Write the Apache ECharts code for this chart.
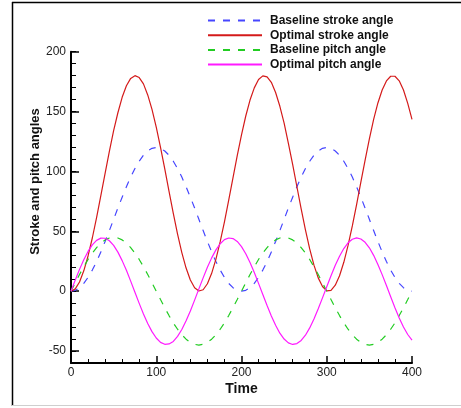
<!DOCTYPE html>
<html>
<head>
<meta charset="utf-8">
<script src="https://cdn.jsdelivr.net/npm/echarts@6/dist/echarts.min.js"></script>
<style>html,body{margin:0;padding:0;background:#fff}#c{width:461px;height:408px}</style>
</head>
<body>
<div id="c"></div>
<script>
const times = [0,5,10,15,20,25,30,35,40,45,50,55,60,65,70,75,80,85,90,95,100,
  105,110,115,120,125,130,135,140,145,150,155,160,165,170,175,180,185,190,195,200,
  205,210,215,220,225,230,235,240,245,250,255,260,265,270,275,280,285,290,295,300,
  305,310,315,320,325,330,335,340,345,350,355,360,365,370,375,380,385,390,395,400];
const baselineStroke = [0,0.7,2.9,6.5,11.5,17.6,24.7,32.8,41.5,50.6,60,69.4,78.5,87.2,95.3,102.4,108.5,113.5,117.1,119.3,120,
  119.3,117.1,113.5,108.5,102.4,95.3,87.2,78.5,69.4,60,50.6,41.5,32.8,24.7,17.6,11.5,6.5,2.9,0.7,0,
  0.7,2.9,6.5,11.5,17.6,24.7,32.8,41.5,50.6,60,69.4,78.5,87.2,95.3,102.4,108.5,113.5,117.1,119.3,120,
  119.3,117.1,113.5,108.5,102.4,95.3,87.2,78.5,69.4,60,50.6,41.5,32.8,24.7,17.6,11.5,6.5,2.9,0.7,0];
const optimalStroke = [0,1.9,7.7,17.0,29.4,44.4,61.5,79.7,98.4,116.8,134.0,149.0,161.9,171.5,177.7,180.0,178.4,173.1,163.9,151.8,137.0,
  120.1,102.2,83.4,65.0,47.7,32.2,19.3,9.3,2.8,0.1,1.2,6.2,14.9,26.7,41.3,57.9,76.0,94.7,113.2,130.6,
  146.3,159.6,169.8,176.8,179.8,179.0,174.4,165.9,154.4,140.3,123.5,105.9,87.2,68.7,51.2,35.3,21.7,11.1,3.9,0.3,
  0.7,5.0,12.9,24.1,38.2,54.5,72.3,91.0,109.5,127.2,143.4,157.2,168.0,175.6,179.5,179.5,175.7,168.0,156.8,143.5];
const baselinePitch = [0,7.0,13.9,20.4,26.5,31.8,36.4,40.1,42.8,44.4,45,44.4,42.8,40.1,36.4,31.8,26.5,20.4,13.9,7.0,0,
  -7.0,-13.9,-20.4,-26.5,-31.8,-36.4,-40.1,-42.8,-44.4,-45,-44.4,-42.8,-40.1,-36.4,-31.8,-26.5,-20.4,-13.9,-7.0,0,
  7.0,13.9,20.4,26.5,31.8,36.4,40.1,42.8,44.4,45,44.4,42.8,40.1,36.4,31.8,26.5,20.4,13.9,7.0,0,
  -7.0,-13.9,-20.4,-26.5,-31.8,-36.4,-40.1,-42.8,-44.4,-45,-44.4,-42.8,-40.1,-36.4,-31.8,-26.5,-20.4,-13.9,-7.0,0];
const optimalPitch = [0,9.3,18.2,26.3,33.2,38.7,42.4,44.3,44.2,42.1,38.2,32.6,25.5,17.4,8.4,-0.9,-10.2,-19.0,-27.0,-33.8,-39.1,
  -42.8,-44.4,-44.1,-42.0,-37.8,-32.0,-24.8,-16.5,-7.5,1.9,11.1,19.9,27.8,34.5,39.6,43.0,44.4,43.9,41.5,37.2,
  31.3,24.0,15.6,6.5,-2.8,-12.0,-20.8,-28.5,-35.1,-40.0,-43.2,-44.5,-43.8,-41.2,-36.8,-30.7,-23.2,-14.7,-5.6,3.7,
  12.9,21.6,29.2,35.6,40.4,43.4,44.5,43.6,40.8,36.2,29.9,22.3,13.8,4.7,-4.7,-13.8,-22.4,-29.9,-36.2,-40.8];
const seriesNames = ['Baseline stroke angle','Optimal stroke angle','Baseline pitch angle','Optimal pitch angle'];
const yMajorTicks = [-50,0,50,100,150,200];
const xTitle = 'Time';
const yTitle = 'Stroke and pitch angles';

const zip = vals => times.map((t, i) => [t, vals[i]]);
const FONT = '"Liberation Sans", Arial, sans-serif';

const chart = echarts.init(document.getElementById('c'), null, {renderer: 'canvas'});
const mk = (name, vals, color, dashed) => ({
  name, type: 'line', data: zip(vals), smooth: false, symbol: 'none',
  xAxisIndex: 0, yAxisIndex: 0, animation: false,
  lineStyle: {color, width: 1.2, type: dashed ? [7, 8] : 'solid'},
  itemStyle: {color}
});
chart.setOption({
  animation: false,
  backgroundColor: '#fff',
  grid: {left: 71, right: 49, top: 51.7, bottom: 45, containLabel: false},
  legend: {
    orient: 'vertical', left: 207, top: 14.5, padding: 0,
    itemWidth: 54, itemHeight: 10, itemGap: 2.7,
    itemStyle: {opacity: 0},
    data: seriesNames.map(n => ({name: n})),
    textStyle: {fontFamily: FONT, fontSize: 12, fontWeight: 'bold', color: '#111', padding: [0,0,0,3]}
  },
  xAxis: [{
    type: 'value', min: 0, max: 400, interval: 100,
    axisLine: {show: true, onZero: false, lineStyle: {color: '#000', width: 2}},
    axisTick: {show: true, inside: true, length: 7, lineStyle: {color: '#000', width: 1.5}},
    minorTick: {show: true, splitNumber: 5, length: 4, lineStyle: {color: '#000', width: 1}},
    axisLabel: {fontFamily: FONT, fontSize: 12, color: '#222', margin: 4},
    splitLine: {show: false}, minorSplitLine: {show: false}
  }],
  yAxis: [{
    type: 'value', min: -60, max: 200,
    axisLine: {show: true, onZero: false, lineStyle: {color: '#000', width: 2}},
    axisTick: {show: true, inside: true, length: 8, customValues: yMajorTicks, lineStyle: {color: '#000', width: 1.5}},
    axisLabel: {fontFamily: FONT, fontSize: 12, color: '#222', margin: 5, customValues: yMajorTicks},
    splitLine: {show: false}
  }, {
    type: 'value', min: -60, max: 200, interval: 10, position: 'left',
    axisLine: {show: false},
    axisTick: {show: true, inside: true, length: 5, lineStyle: {color: '#000', width: 1}},
    axisLabel: {show: false}, splitLine: {show: false}
  }],
  series: [
    mk(seriesNames[0], baselineStroke, '#4646ff', true),
    mk(seriesNames[1], optimalStroke, '#d41a1a', false),
    mk(seriesNames[2], baselinePitch, '#22cc22', true),
    mk(seriesNames[3], optimalPitch, '#ff1aff', false)
  ],
  graphic: [
    {type: 'line', shape: {x1: 12.5, y1: 2, x2: 12.5, y2: 406}, style: {stroke: '#000', lineWidth: 1.5}},
    {type: 'line', shape: {x1: 12, y1: 2.5, x2: 461, y2: 2.5}, style: {stroke: '#000', lineWidth: 1.5}},
    {type: 'line', shape: {x1: 12, y1: 405.5, x2: 461, y2: 405.5}, style: {stroke: '#cfcfcf', lineWidth: 1}},
    {type: 'text', x: 241.5, y: 389, style: {text: xTitle, font: 'bold 14px ' + FONT, fill: '#111', textAlign: 'center', textVerticalAlign: 'middle'}},
    {type: 'text', x: 35, y: 181.5, rotation: Math.PI / 2, style: {text: yTitle, font: 'bold 13px ' + FONT, fill: '#111', textAlign: 'center', textVerticalAlign: 'middle'}}
  ]
});
</script>
</body>
</html>
